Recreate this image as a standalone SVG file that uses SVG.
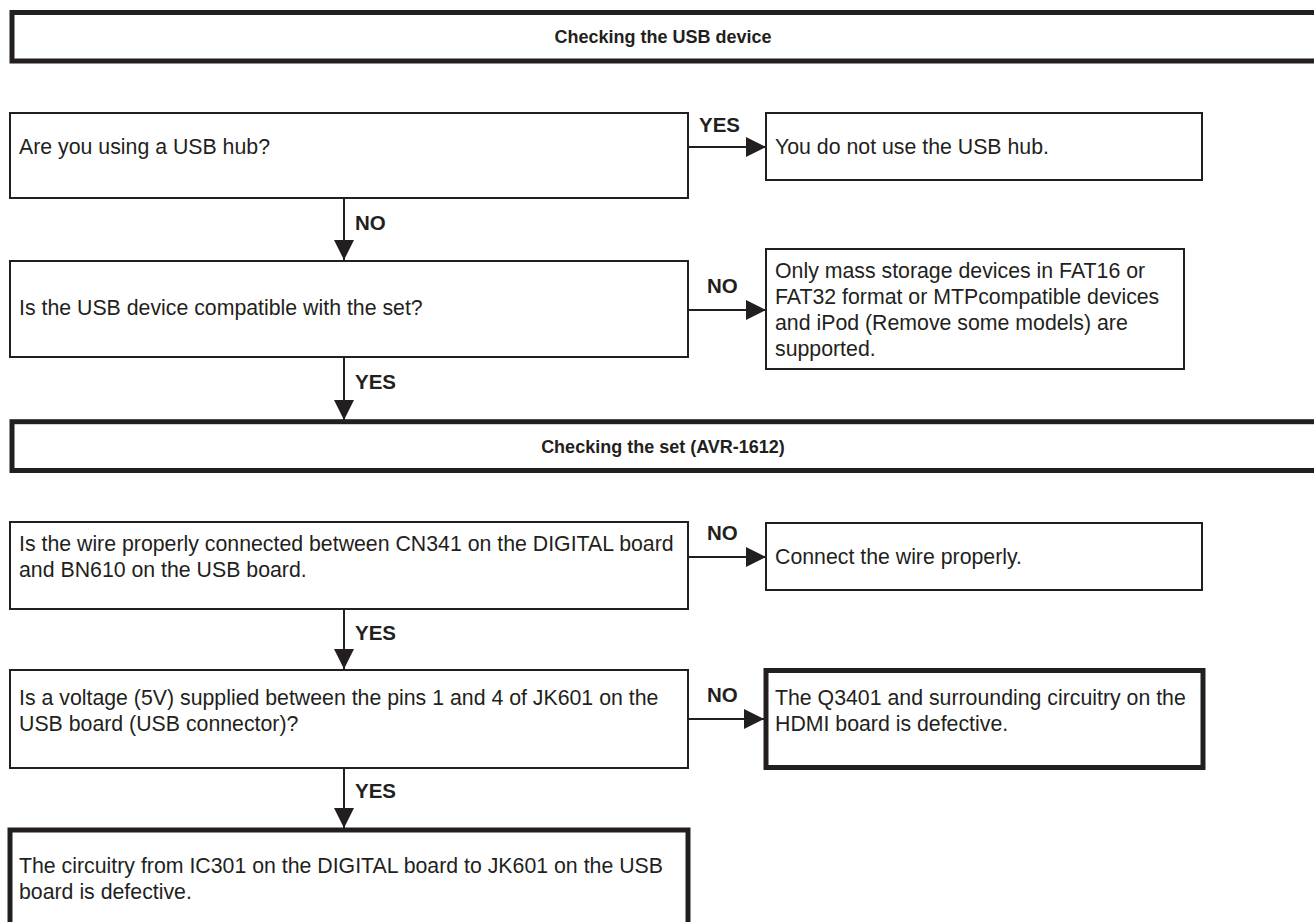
<svg xmlns="http://www.w3.org/2000/svg" width="1314" height="922" viewBox="0 0 1314 922">
<style>
.t{font-family:"Liberation Sans",Arial,sans-serif;font-size:21.3px;fill:#231f20}
.b{font-family:"Liberation Sans",Arial,sans-serif;font-size:20.5px;font-weight:bold;fill:#231f20}
.h{font-family:"Liberation Sans",Arial,sans-serif;font-size:18px;font-weight:bold;fill:#231f20}
.box{fill:#fff;stroke:#231f20;stroke-width:2}
.thick{fill:#fff;stroke:#231f20;stroke-width:5}
.ln{stroke:#231f20;stroke-width:2;fill:none}
</style>
<defs>
<marker id="ah" markerWidth="20" markerHeight="20" refX="20" refY="10" orient="auto" markerUnits="userSpaceOnUse" viewBox="0 0 20 20">
<path d="M0,0 L20,10 L0,20 Z" fill="#231f20"/>
</marker>
</defs>
<rect width="1314" height="922" fill="#fff"/>
<g id="header1">
<rect class="thick" x="12" y="12.5" width="1320" height="48.5"/>
<text class="h" x="663" y="43" text-anchor="middle">Checking the USB device</text>
</g>
<g id="q1">
<rect class="box" x="10" y="113" width="678" height="85"/>
<text class="t" x="19" y="154">Are you using a USB hub?</text>
</g>
<g id="r1">
<rect class="box" x="766" y="113" width="436" height="67"/>
<text class="t" x="775" y="154">You do not use the USB hub.</text>
</g>
<g id="q2">
<rect class="box" x="10" y="261" width="678" height="96"/>
<text class="t" x="19" y="315">Is the USB device compatible with the set?</text>
</g>
<g id="r2">
<rect class="box" x="766" y="249" width="418" height="120"/>
<text class="t" x="775" y="278">Only mass storage devices in FAT16 or</text>
<text class="t" x="775" y="304">FAT32 format or MTPcompatible devices</text>
<text class="t" x="775" y="330">and iPod (Remove some models) are</text>
<text class="t" x="775" y="356">supported.</text>
</g>
<g id="header2">
<rect class="thick" x="12" y="421.7" width="1320" height="48.8"/>
<text class="h" x="663" y="452.5" text-anchor="middle">Checking the set (AVR-1612)</text>
</g>
<g id="q3">
<rect class="box" x="10" y="522" width="678" height="87"/>
<text class="t" x="19" y="551">Is the wire properly connected between CN341 on the DIGITAL board</text>
<text class="t" x="19" y="577">and BN610 on the USB board.</text>
</g>
<g id="r3">
<rect class="box" x="766" y="523" width="436" height="67"/>
<text class="t" x="775" y="564">Connect the wire properly.</text>
</g>
<g id="q4">
<rect class="box" x="10" y="670" width="678" height="98"/>
<text class="t" x="19" y="705">Is a voltage (5V) supplied between the pins 1 and 4 of JK601 on the</text>
<text class="t" x="19" y="731">USB board (USB connector)?</text>
</g>
<g id="r4">
<rect class="thick" x="766" y="670.5" width="437" height="97"/>
<text class="t" x="775" y="705">The Q3401 and surrounding circuitry on the</text>
<text class="t" x="775" y="731">HDMI board is defective.</text>
</g>
<g id="r5">
<rect class="thick" x="10" y="830" width="678" height="110"/>
<text class="t" x="19" y="873">The circuitry from IC301 on the DIGITAL board to JK601 on the USB</text>
<text class="t" x="19" y="899">board is defective.</text>
</g>
<g id="connectors">
<line class="ln" x1="688" y1="147" x2="766" y2="147" marker-end="url(#ah)"/>
<text class="b" x="699" y="132">YES</text>
<line class="ln" x1="344" y1="198" x2="344" y2="260" marker-end="url(#ah)"/>
<text class="b" x="355" y="230">NO</text>
<line class="ln" x1="688" y1="310" x2="766" y2="310" marker-end="url(#ah)"/>
<text class="b" x="707" y="293">NO</text>
<line class="ln" x1="344" y1="357" x2="344" y2="420" marker-end="url(#ah)"/>
<text class="b" x="355" y="389">YES</text>
<line class="ln" x1="688" y1="557" x2="766" y2="557" marker-end="url(#ah)"/>
<text class="b" x="707" y="540">NO</text>
<line class="ln" x1="344" y1="609" x2="344" y2="669" marker-end="url(#ah)"/>
<text class="b" x="355" y="640">YES</text>
<line class="ln" x1="688" y1="719" x2="764" y2="719" marker-end="url(#ah)"/>
<text class="b" x="707" y="702">NO</text>
<line class="ln" x1="344" y1="768" x2="344" y2="828" marker-end="url(#ah)"/>
<text class="b" x="355" y="798">YES</text>
</g>
</svg>
